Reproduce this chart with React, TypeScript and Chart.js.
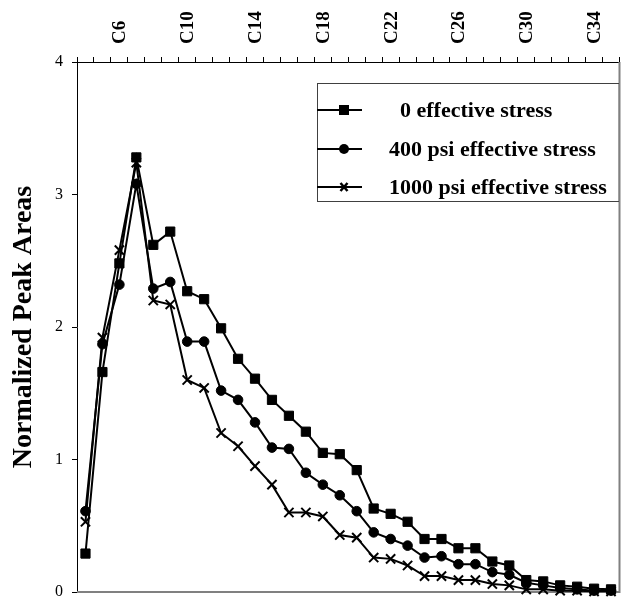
import React, { useEffect, useRef } from 'react';
import { Chart, registerables } from 'chart.js';

Chart.register(...registerables);

// Carbon-number fractions along the top axis
const carbonNumbers = [
  'C4', 'C5', 'C6', 'C7', 'C8', 'C9', 'C10', 'C11', 'C12', 'C13', 'C14', 'C15',
  'C16', 'C17', 'C18', 'C19', 'C20', 'C21', 'C22', 'C23', 'C24', 'C25', 'C26',
  'C27', 'C28', 'C29', 'C30', 'C31', 'C32', 'C33', 'C34', 'C35',
];
const labeledCarbons = ['C6', 'C10', 'C14', 'C18', 'C22', 'C26', 'C30', 'C34'];

const seriesNames = ['  0 effective stress', '400 psi effective stress', '1000 psi effective stress'];

const stress0 = [
  0.29, 1.66, 2.48, 3.28, 2.62, 2.72, 2.27, 2.21, 1.99, 1.76, 1.61, 1.45, 1.33,
  1.21, 1.05, 1.04, 0.92, 0.63, 0.59, 0.53, 0.40, 0.40, 0.33, 0.33, 0.23, 0.20,
  0.09, 0.08, 0.05, 0.04, 0.025, 0.02,
];
const stress400 = [
  0.61, 1.87, 2.32, 3.08, 2.29, 2.34, 1.89, 1.89, 1.52, 1.45, 1.28, 1.09, 1.08,
  0.90, 0.81, 0.73, 0.61, 0.45, 0.40, 0.35, 0.26, 0.27, 0.21, 0.21, 0.15, 0.13,
  0.07, 0.05, 0.03, 0.02, 0.01, 0.01,
];
const stress1000 = [
  0.53, 1.92, 2.58, 3.24, 2.20, 2.17, 1.60, 1.54, 1.20, 1.10, 0.95, 0.81, 0.60,
  0.60, 0.57, 0.43, 0.41, 0.26, 0.25, 0.20, 0.12, 0.12, 0.09, 0.09, 0.06, 0.05,
  0.02, 0.02, 0.01, 0.01, 0.005, 0.005,
];

const yTicks = [0, 1, 2, 3, 4];

const serif = "'Liberation Serif', 'Times New Roman', serif";
const markerStyles = ['rect', 'circle', 'crossRot'];
const markerRadii = [6.5, 4.8, 6.5];

function drawLegendMarker(ctx: CanvasRenderingContext2D, style: string, x: number, y: number) {
  ctx.save();
  ctx.fillStyle = '#000';
  ctx.strokeStyle = '#000';
  if (style === 'rect') {
    ctx.fillRect(x - 5, y - 5, 10, 10);
  } else if (style === 'circle') {
    ctx.beginPath();
    ctx.arc(x, y, 5, 0, Math.PI * 2);
    ctx.fill();
  } else {
    ctx.lineWidth = 2.5;
    ctx.beginPath();
    ctx.moveTo(x - 3.5, y - 4);
    ctx.lineTo(x + 3.5, y + 4);
    ctx.moveTo(x + 3.5, y - 4);
    ctx.lineTo(x - 3.5, y + 4);
    ctx.stroke();
  }
  ctx.restore();
}

// Grey frame on the right and bottom of the plot area
const plotFrame = {
  id: 'plotFrame',
  beforeDatasetsDraw(chart: any) {
    const { ctx, chartArea: a } = chart;
    ctx.save();
    ctx.strokeStyle = '#808080';
    ctx.lineWidth = 2;
    ctx.beginPath();
    ctx.moveTo(a.left, a.bottom);
    ctx.lineTo(a.right, a.bottom);
    ctx.lineTo(a.right, a.top);
    ctx.stroke();
    ctx.restore();
  },
};

// Vertical carbon-number labels above the top axis, every fourth category
const carbonLabels = {
  id: 'carbonLabels',
  afterDraw(chart: any) {
    const { ctx } = chart;
    const xScale = chart.scales.x;
    ctx.save();
    ctx.fillStyle = '#000';
    ctx.font = `bold 19px ${serif}`;
    ctx.textAlign = 'left';
    ctx.textBaseline = 'middle';
    carbonNumbers.forEach((c, i) => {
      if (!labeledCarbons.includes(c)) return;
      const x = xScale.getPixelForValue(i);
      ctx.save();
      ctx.translate(x + 1, 44);
      ctx.rotate(-Math.PI / 2);
      ctx.fillText(c, 0, 0);
      ctx.restore();
    });
    ctx.restore();
  },
};

// Boxed legend in the upper right of the plot
const boxedLegend = {
  id: 'boxedLegend',
  afterDatasetsDraw(chart: any) {
    const { ctx, chartArea: a } = chart;
    const left = 317;
    const top = 83;
    const right = a.right;
    const bottom = 202;
    ctx.save();
    ctx.fillStyle = '#fff';
    ctx.fillRect(left, top, right - left, bottom - top);
    ctx.strokeStyle = '#404040';
    ctx.lineWidth = 1;
    ctx.strokeRect(left + 0.5, top + 0.5, right - left - 1, bottom - top - 1);
    const rows = [110, 149, 187];
    chart.data.datasets.forEach((ds: any, i: number) => {
      const y = rows[i];
      ctx.strokeStyle = '#000';
      ctx.lineWidth = 2;
      ctx.beginPath();
      ctx.moveTo(left, y);
      ctx.lineTo(362, y);
      ctx.stroke();
      drawLegendMarker(ctx, markerStyles[i], 344, y);
      ctx.fillStyle = '#000';
      ctx.font = `bold 22px ${serif}`;
      ctx.textBaseline = 'middle';
      ctx.textAlign = 'left';
      ctx.fillText(ds.label, 389, y + 1);
    });
    ctx.restore();
  },
};

export default function App() {
  const canvasRef = useRef<HTMLCanvasElement>(null);

  useEffect(() => {
    const canvas = canvasRef.current;
    if (!canvas) return;
    const seriesValues = [stress0, stress400, stress1000];
    const chart = new Chart(canvas, {
      type: 'line',
      data: {
        labels: carbonNumbers,
        datasets: seriesValues.map((values, i) => ({
          label: seriesNames[i],
          data: values,
          borderColor: '#000',
          backgroundColor: '#000',
          borderWidth: 2,
          pointStyle: markerStyles[i] as any,
          pointRadius: markerRadii[i],
          pointBorderWidth: i === 2 ? 2 : 1,
          pointBorderColor: '#000',
          pointBackgroundColor: '#000',
          tension: 0,
          clip: false as any,
        })),
      },
      options: {
        responsive: false,
        animation: false,
        devicePixelRatio: 1,
        layout: { padding: { left: 0, top: 0, right: 3, bottom: 6 } },
        plugins: {
          legend: { display: false },
          tooltip: { enabled: false },
        },
        scales: {
          x: {
            type: 'category',
            position: 'top',
            offset: true,
            grid: {
              offset: true,
              drawOnChartArea: false,
              drawTicks: true,
              tickLength: 5,
              color: '#000',
              lineWidth: 1,
            },
            border: { display: true, color: '#000', width: 1 },
            ticks: {
              display: false,
              autoSkip: false,
            },
            afterFit: (scale: any) => {
              scale.height = 62;
            },
          },
          y: {
            min: yTicks[0],
            max: yTicks[yTicks.length - 1],
            afterBuildTicks: (scale: any) => {
              scale.ticks = yTicks.map((v) => ({ value: v }));
            },
            grid: {
              drawOnChartArea: false,
              drawTicks: true,
              tickLength: 5,
              color: '#000',
            },
            border: { display: true, color: '#000', width: 1 },
            ticks: {
              padding: 9,
              color: '#000',
              font: { family: serif, size: 16, lineHeight: 0.5 },
              callback: (v: any) => String(v),
            },
            title: {
              display: true,
              text: 'Normalized Peak Areas',
              color: '#000',
              font: { family: serif, size: 28, weight: 'bold' },
              padding: { top: 7, bottom: 0 },
            },
            afterFit: (scale: any) => {
              scale.width = 77;
            },
          },
        },
      },
      plugins: [plotFrame, boxedLegend, carbonLabels],
    });
    return () => chart.destroy();
  }, []);

  return (
    <div
      style={{
        position: 'absolute',
        left: 0,
        top: 0,
        width: 628,
        height: 605,
        overflow: 'hidden',
        background: '#fff',
      }}
    >
      <canvas ref={canvasRef} width={628} height={605} style={{ display: 'block' }} />
    </div>
  );
}
